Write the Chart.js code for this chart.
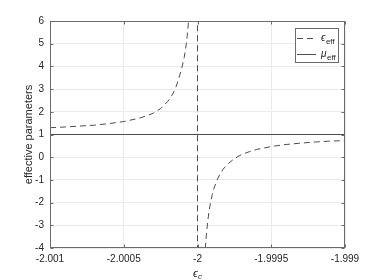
<!DOCTYPE html>
<html>
<head>
<meta charset="utf-8">
<script src="https://cdn.jsdelivr.net/npm/chart.js@4/dist/chart.umd.min.js"></script>
<style>
  html, body { margin: 0; padding: 0; background: #ffffff; }
  #wrap { width: 382px; height: 280px; position: relative; }
</style>
</head>
<body>
<div id="wrap"><canvas id="c" width="382" height="280"></canvas></div>
<script>
// ---- data ----
const xTickValues = [-2.001, -2.0005, -2, -1.9995, -1.999];
const xTickLabels = ['-2.001', '-2.0005', '-2', '-1.9995', '-1.999'];
const yTickValues = [-4, -3, -2, -1, 0, 1, 2, 3, 4, 5, 6];
const yTickLabels = ['-4', '-3', '-2', '-1', '0', '1', '2', '3', '4', '5', '6'];

// epsilon_eff (dashed curve): left branch, jump across the pole at -2, right branch
const epsX = [
  -2.001, -2.0009, -2.0008, -2.0007, -2.0006, -2.0005, -2.0004, -2.00035, -2.0003,
  -2.00025, -2.0002, -2.00017, -2.00015, -2.00013, -2.00011, -2.0001, -2.00009,
  -2.00008, -2.00007, -2.00006, -2.00005, -2.00004, -2.00003, -2.0000001,
  -1.9999999, -1.99997, -1.99996, -1.99995, -1.99994, -1.99993, -1.99992, -1.99991,
  -1.9999, -1.99989, -1.99987, -1.99985, -1.99983, -1.9998, -1.99975, -1.9997,
  -1.99965, -1.9996, -1.9995, -1.9994, -1.9993, -1.9992, -1.9991, -1.999
];
const epsY = [
  1.30, 1.33, 1.37, 1.41, 1.48, 1.57, 1.71, 1.81, 1.94,
  2.14, 2.47, 2.76, 3.02, 3.40, 3.85, 4.10, 4.40,
  4.80, 5.33, 6.05, 7.00, 8.50, 11.0, 3000,
  -2650, -7.8, -5.6, -4.3, -3.42, -2.79, -2.31, -1.94,
  -1.65, -1.41, -1.04, -0.77, -0.56, -0.33, -0.06, 0.12,
  0.24, 0.34, 0.47, 0.56, 0.62, 0.67, 0.71, 0.73
];
// mu_eff (solid line)
const muX = [-2.001, -1.999];
const muY = [1, 1];

const seriesSymbols = ['\u03F5', '\u03BC'];
const seriesSubscripts = ['eff', 'eff'];
const xAxisSymbol = '\u03F5';
const xAxisSubscript = 'c';
const yAxisTitle = 'effective parameters';

const FONT = '"Liberation Sans", Arial, Helvetica, sans-serif';
const LINE_COLOR = '#4d4d4d';
const BOX_COLOR = '#6b6b6b';

function toPoints(xs, ys) { return xs.map((x, i) => ({ x: x, y: ys[i] })); }

// box, inward ticks, x-axis title and boxed legend, MATLAB style
const matlabDecor = {
  id: 'matlabDecor',
  afterDatasetsDraw(chart) {
    const ctx = chart.ctx;
    const a = chart.chartArea;
    const xs = chart.scales.x, ys = chart.scales.y;
    const L = Math.round(a.left) + 0.5, R = Math.round(a.right) - 0.5;
    const T = Math.round(a.top) + 0.5, B = Math.round(a.bottom) - 0.5;
    ctx.save();
    ctx.strokeStyle = BOX_COLOR;
    ctx.lineWidth = 1;
    ctx.setLineDash([]);
    ctx.strokeRect(L, T, R - L, B - T);
    const tl = 3;
    ctx.beginPath();
    xTickValues.forEach(v => {
      const px = Math.round(xs.getPixelForValue(v)) + 0.5;
      ctx.moveTo(px, B); ctx.lineTo(px, B - tl);
      ctx.moveTo(px, T); ctx.lineTo(px, T + tl);
    });
    yTickValues.forEach(v => {
      const py = Math.round(ys.getPixelForValue(v)) + 0.5;
      ctx.moveTo(L, py); ctx.lineTo(L + tl, py);
      ctx.moveTo(R, py); ctx.lineTo(R - tl, py);
    });
    ctx.stroke();

    // x-axis title: epsilon with subscript c
    const cx = (a.left + a.right) / 2;
    ctx.fillStyle = '#262626';
    ctx.textBaseline = 'alphabetic';
    ctx.textAlign = 'left';
    ctx.font = 'italic 11px ' + FONT;
    const w1 = ctx.measureText(xAxisSymbol).width;
    ctx.font = 'italic 8px ' + FONT;
    const w2 = ctx.measureText(xAxisSubscript).width;
    const x0 = cx - (w1 + w2) / 2;
    ctx.font = 'italic 11px ' + FONT;
    ctx.fillText(xAxisSymbol, x0, 277);
    ctx.font = 'italic 8px ' + FONT;
    ctx.fillText(xAxisSubscript, x0 + w1, 279);

    // legend box
    const lx = a.right - 50, ly = a.top + 7, lw = 43, lh = 34;
    ctx.fillStyle = '#ffffff';
    ctx.fillRect(lx, ly, lw, lh);
    ctx.strokeStyle = BOX_COLOR;
    ctx.strokeRect(Math.round(lx) + 0.5, Math.round(ly) + 0.5, lw, lh);
    const rows = [ly + 9.5, ly + 25.5];
    chart.data.datasets.forEach((ds, i) => {
      const y = Math.round(rows[i]) + 0.5;
      ctx.strokeStyle = ds.borderColor;
      ctx.lineWidth = 1;
      ctx.setLineDash(ds.borderDash || []);
      ctx.beginPath();
      ctx.moveTo(lx + 2, y);
      ctx.lineTo(lx + 21, y);
      ctx.stroke();
      ctx.setLineDash([]);
      ctx.fillStyle = '#262626';
      ctx.font = 'italic 10px ' + FONT;
      ctx.fillText(seriesSymbols[i], lx + 26, y + 2);
      const sw = ctx.measureText(seriesSymbols[i]).width;
      ctx.font = '8px ' + FONT;
      ctx.fillText(seriesSubscripts[i], lx + 26 + sw + 0.5, y + 5);
    });
    ctx.restore();
  }
};

new Chart(document.getElementById('c'), {
  type: 'scatter',
  data: {
    datasets: [
      {
        label: seriesSymbols[0] + '_' + seriesSubscripts[0],
        data: toPoints(epsX, epsY),
        showLine: true,
        borderColor: LINE_COLOR,
        borderWidth: 1,
        borderDash: [6, 4],
        pointRadius: 0,
        tension: 0,
        fill: false
      },
      {
        label: seriesSymbols[1] + '_' + seriesSubscripts[1],
        data: toPoints(muX, muY),
        showLine: true,
        borderColor: LINE_COLOR,
        borderWidth: 1,
        pointRadius: 0,
        fill: false
      }
    ]
  },
  options: {
    responsive: false,
    animation: false,
    events: [],
    layout: { padding: { top: 21, right: 37, bottom: 0, left: 0 } },
    plugins: { legend: { display: false }, tooltip: { enabled: false } },
    scales: {
      x: {
        type: 'linear',
        min: -2.001,
        max: -1.999,
        afterBuildTicks: s => { s.ticks = xTickValues.map(v => ({ value: v })); },
        afterFit: s => { s.height = 32; },
        grid: { color: '#ebebeb', drawTicks: false, lineWidth: 1 },
        border: { display: false },
        ticks: {
          autoSkip: false,
          maxRotation: 0,
          padding: 5,
          color: '#262626',
          font: { family: FONT, size: 10 },
          callback: (v, i) => xTickLabels[i]
        }
      },
      y: {
        type: 'linear',
        min: -4,
        max: 6,
        afterBuildTicks: s => { s.ticks = yTickValues.map(v => ({ value: v })); },
        afterFit: s => { s.width = 50; },
        grid: { color: '#ebebeb', drawTicks: false, lineWidth: 1 },
        border: { display: false },
        title: {
          display: true,
          text: yAxisTitle,
          color: '#262626',
          font: { family: FONT, size: 11 },
          padding: { top: 22, bottom: 0 }
        },
        ticks: {
          autoSkip: false,
          padding: 6,
          color: '#262626',
          font: { family: FONT, size: 10 },
          callback: (v, i) => yTickLabels[i]
        }
      }
    }
  },
  plugins: [matlabDecor]
});
</script>
</body>
</html>
